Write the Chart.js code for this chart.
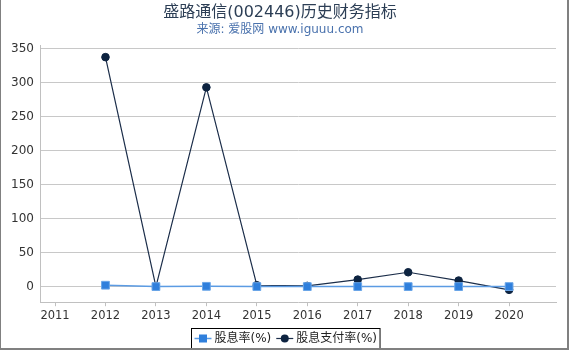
<!DOCTYPE html>
<html lang="zh">
<head>
  <meta charset="UTF-8">
  <title>盛路通信(002446)历史财务指标</title>
  <script src="https://cdn.jsdelivr.net/npm/chart.js"></script>
  <style>
    body { margin: 0; background: #fff; }
    #wrap { position: relative; width: 570px; height: 350px; }
    #frame {
      position: absolute; left: 0; top: 0; width: 566px; height: 348px;
      border-left: 1px solid #808080; border-right: 2px solid #808080; border-bottom: 2px solid #808080;
      pointer-events: none;
    }
  </style>
</head>
<body>
<div id="wrap">
  <canvas id="chart" width="570" height="350"></canvas>
  <div id="frame"></div>
</div>

<script>
  // 数据
  const years = [2012, 2013, 2014, 2015, 2016, 2017, 2018, 2019, 2020];
  const dividendYield = [2.0, 0, 0.4, 0, 0, 0, 0, 0, 0];          // 股息率(%)
  const payoutRatio = [338, 0, 293.5, 2, 1, 10.3, 21.1, 8.9, -4.8]; // 股息支付率(%)
  const xTicks = [2011, 2012, 2013, 2014, 2015, 2016, 2017, 2018, 2019, 2020];
  const yTicks = [0, 50, 100, 150, 200, 250, 300, 350];

  const FONT = "'DejaVu Sans', 'Noto Sans CJK SC', sans-serif";
  Chart.defaults.font.family = FONT;
  Chart.defaults.color = '#333';

  const toPoints = vals => years.map((y, i) => ({ x: y, y: vals[i] }));

  // 底部图例（带边框）
  const boxLegend = {
    id: 'boxLegend',
    afterDraw(chart) {
      const ctx = chart.ctx;
      const sets = chart.data.datasets;
      ctx.save();
      ctx.font = '12px ' + FONT;
      const markW = 17, gap = 3, itemGap = 5, pad = 3;
      const widths = sets.map(ds => markW + gap + ctx.measureText(ds.label).width);
      const total = widths.reduce((a, b) => a + b, 0) + itemGap * (sets.length - 1) + pad * 2;
      const left = Math.round(285.5 - total / 2) + 0.5;
      const top = 328.5, h = 21, cy = 338.5;
      ctx.fillStyle = '#fff';
      ctx.fillRect(left, top, total, h);
      ctx.strokeStyle = '#000';
      ctx.lineWidth = 1;
      ctx.strokeRect(left, top, total, h);
      let x = left + pad;
      sets.forEach((ds, i) => {
        ctx.strokeStyle = ds.borderColor;
        ctx.lineWidth = ds.borderWidth;
        ctx.beginPath();
        ctx.moveTo(x, cy);
        ctx.lineTo(x + markW, cy);
        ctx.stroke();
        ctx.fillStyle = ds.pointBackgroundColor;
        const mx = x + markW / 2;
        if (ds.pointStyle === 'rect') {
          ctx.fillRect(mx - 4, cy - 4, 8, 8);
        } else {
          ctx.beginPath();
          ctx.arc(mx, cy, 4, 0, Math.PI * 2);
          ctx.fill();
        }
        ctx.fillStyle = '#222';
        ctx.textBaseline = 'middle';
        ctx.textAlign = 'left';
        ctx.fillText(ds.label, x + markW + gap, cy);
        x += widths[i] + itemGap;
      });
      ctx.restore();
    }
  };

  const ctx = document.getElementById('chart').getContext('2d');
  new Chart(ctx, {
    type: 'line',
    data: {
      datasets: [{
        label: '股息率(%)',
        data: toPoints(dividendYield),
        borderColor: '#5b9be3',
        borderWidth: 1.5,
        pointStyle: 'rect',
        pointRadius: 5.5,
        pointBorderWidth: 1,
        pointBackgroundColor: '#2f7fdc',
        pointBorderColor: '#6aa6e8',
        tension: 0
      }, {
        label: '股息支付率(%)',
        data: toPoints(payoutRatio),
        borderColor: '#1c2e4a',
        borderWidth: 1.2,
        pointStyle: 'circle',
        pointRadius: 3.8,
        pointBorderWidth: 1,
        pointBackgroundColor: '#0d2340',
        pointBorderColor: '#0d2340',
        tension: 0
      }]
    },
    options: {
      responsive: false,
      animation: false,
      layout: { padding: { left: 4, right: 14, top: 0, bottom: 24 } },
      plugins: {
        legend: { display: false },
        tooltip: { enabled: false },
        title: {
          display: true,
          text: '盛路通信(002446)历史财务指标',
          color: '#2c3e55',
          font: { size: 16, weight: 'normal' },
          padding: { top: 3, bottom: 0 }
        },
        subtitle: {
          display: true,
          text: '来源: 爱股网 www.iguuu.com',
          color: '#4a72ad',
          font: { size: 12 },
          padding: { top: 0, bottom: 9 }
        }
      },
      scales: {
        x: {
          type: 'linear',
          min: 2010.72,
          max: 2020.93,
          afterBuildTicks: axis => { axis.ticks = xTicks.map(v => ({ value: v })); },
          ticks: { callback: v => String(v), font: { size: 11.5 }, padding: 3, maxRotation: 0, color: '#333' },
          grid: { drawOnChartArea: false, drawTicks: true, tickLength: 4, color: '#c0c0c0' },
          border: { color: '#c0c0c0' }
        },
        y: {
          min: -23,
          max: 355,
          afterBuildTicks: axis => { axis.ticks = yTicks.map(v => ({ value: v })); },
          ticks: { font: { size: 12 }, padding: 7, color: '#333' },
          grid: { drawTicks: false, color: '#c8c8c8' },
          border: { color: '#c0c0c0' }
        }
      }
    },
    plugins: [boxLegend]
  });
</script>
</body>
</html>
